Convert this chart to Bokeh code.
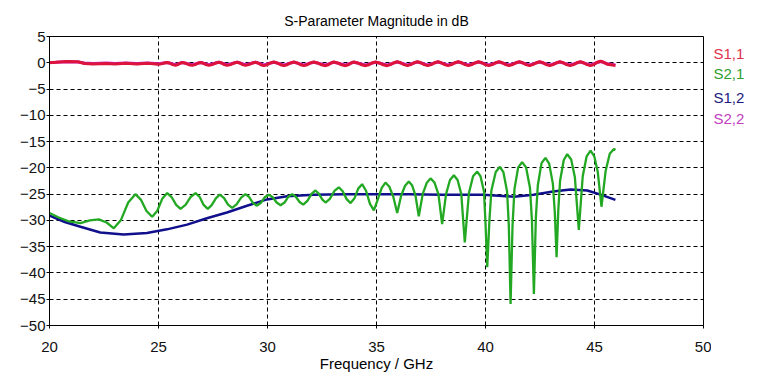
from bokeh.plotting import figure
from bokeh.models import Range1d, FixedTicker, ColumnDataSource
from bokeh.layouts import row
from bokeh.core.properties import value
from bokeh.embed import file_html
from bokeh.resources import INLINE

# ---------------- data ----------------
x_ticks = [20, 25, 30, 35, 40, 45, 50]
y_ticks = [5, 0, -5, -10, -15, -20, -25, -30, -35, -40, -45, -50]
series_names = ["S1,1", "S2,1", "S1,2", "S2,2"]

# S1,1 : (frequency GHz, dB)
s11_points = [
    (20.00, 0.00), (20.30, 0.10), (20.80, 0.25), (21.30, 0.20), (21.60, -0.15), (22.00, -0.25),
    (22.60, -0.15), (23.00, -0.25), (23.50, -0.10), (24.00, -0.25), (24.50, -0.10), (25.00, -0.30),
    (25.13, -0.21), (25.27, -0.04), (25.40, 0.05), (25.53, -0.09), (25.65, -0.36), (25.78, -0.50),
    (25.88, -0.36), (25.99, -0.09), (26.09, 0.05), (26.24, -0.09), (26.40, -0.36), (26.55, -0.50),
    (26.68, -0.36), (26.80, -0.09), (26.93, 0.05), (27.06, -0.09), (27.18, -0.36), (27.31, -0.50),
    (27.46, -0.35), (27.62, -0.05), (27.77, 0.10), (27.90, -0.05), (28.02, -0.35), (28.15, -0.50),
    (28.30, -0.35), (28.46, -0.05), (28.61, 0.10), (28.74, -0.05), (28.86, -0.35), (28.99, -0.50),
    (29.14, -0.35), (29.30, -0.05), (29.45, 0.10), (29.58, -0.06), (29.70, -0.39), (29.83, -0.55),
    (29.98, -0.38), (30.14, -0.03), (30.29, 0.15), (30.44, -0.03), (30.60, -0.38), (30.75, -0.55),
    (30.90, -0.38), (31.06, -0.03), (31.21, 0.15), (31.36, -0.03), (31.52, -0.38), (31.67, -0.55),
    (31.82, -0.38), (31.97, -0.03), (32.12, 0.15), (32.30, -0.03), (32.48, -0.38), (32.66, -0.55),
    (32.79, -0.38), (32.91, -0.03), (33.04, 0.15), (33.22, -0.03), (33.40, -0.38), (33.58, -0.55),
    (33.71, -0.38), (33.83, -0.03), (33.96, 0.15), (34.14, -0.03), (34.32, -0.38), (34.50, -0.55),
    (34.65, -0.38), (34.80, -0.03), (34.95, 0.15), (35.13, -0.03), (35.31, -0.38), (35.49, -0.55),
    (35.64, -0.36), (35.80, 0.01), (35.95, 0.20), (36.11, 0.01), (36.26, -0.36), (36.42, -0.55),
    (36.57, -0.36), (36.73, 0.01), (36.88, 0.20), (37.04, 0.01), (37.19, -0.36), (37.35, -0.55),
    (37.51, -0.36), (37.66, 0.01), (37.82, 0.20), (37.97, 0.01), (38.13, -0.36), (38.28, -0.55),
    (38.44, -0.36), (38.59, 0.01), (38.75, 0.20), (38.91, 0.01), (39.06, -0.36), (39.22, -0.55),
    (39.37, -0.36), (39.53, 0.01), (39.68, 0.20), (39.84, 0.01), (39.99, -0.36), (40.15, -0.55),
    (40.31, -0.36), (40.46, 0.01), (40.62, 0.20), (40.77, 0.01), (40.93, -0.36), (41.08, -0.55),
    (41.24, -0.36), (41.39, 0.01), (41.55, 0.20), (41.71, 0.01), (41.86, -0.36), (42.02, -0.55),
    (42.17, -0.36), (42.33, 0.01), (42.48, 0.20), (42.64, 0.01), (42.79, -0.36), (42.95, -0.55),
    (43.10, -0.36), (43.26, 0.01), (43.41, 0.20), (43.57, 0.01), (43.72, -0.36), (43.88, -0.55),
    (44.04, -0.36), (44.19, 0.01), (44.35, 0.20), (44.50, 0.01), (44.66, -0.36), (44.81, -0.55),
    (44.97, -0.34), (45.12, 0.09), (45.28, 0.30), (45.40, 0.15), (45.60, -0.30), (45.96, -0.50),
]

# S2,2 : (frequency GHz, dB)  (lies just under S1,1)
s22_points = [
    (20.00, 0.05), (20.30, 0.10), (20.80, 0.20), (21.30, 0.15), (21.60, -0.05), (22.00, -0.15),
    (22.60, -0.05), (23.00, -0.15), (23.50, -0.05), (24.00, -0.15), (24.50, -0.05), (25.00, -0.20),
    (25.40, 0.05), (25.78, -0.35), (26.09, 0.05), (26.55, -0.35), (26.93, 0.05), (27.31, -0.35),
    (27.77, 0.10), (28.15, -0.35), (28.61, 0.10), (28.99, -0.35), (29.45, 0.10), (29.83, -0.40),
    (30.29, 0.10), (30.75, -0.40), (31.21, 0.10), (31.67, -0.40), (32.12, 0.10), (32.66, -0.40),
    (33.04, 0.10), (33.58, -0.40), (33.96, 0.10), (34.50, -0.40), (34.95, 0.10), (35.49, -0.40),
    (35.95, 0.15), (36.42, -0.40), (36.88, 0.15), (37.35, -0.40), (37.82, 0.15), (38.28, -0.40),
    (38.75, 0.15), (39.22, -0.40), (39.68, 0.15), (40.15, -0.40), (40.62, 0.15), (41.08, -0.40),
    (41.55, 0.15), (42.02, -0.40), (42.48, 0.15), (42.95, -0.40), (43.41, 0.15), (43.88, -0.40),
    (44.35, 0.15), (44.81, -0.40), (45.28, 0.25), (45.60, -0.20), (45.96, -0.40),
]

# S2,1 : (frequency GHz, dB)
s21_points = [
    (20.00, -28.6), (20.40, -29.4), (20.90, -30.2), (21.42, -30.5), (21.85, -30.0), (22.26, -29.8),
    (22.62, -30.4), (22.95, -31.5), (23.28, -29.9), (23.61, -26.6), (23.94, -25.0), (24.20, -26.1),
    (24.45, -28.2), (24.71, -29.3), (24.94, -28.2), (25.17, -25.9), (25.40, -24.8), (25.60, -25.55),
    (25.81, -27.05), (26.01, -27.8), (26.24, -27.05), (26.47, -25.55), (26.70, -24.8), (26.89, -25.55),
    (27.07, -27.05), (27.26, -27.8), (27.44, -27.1), (27.63, -25.8), (27.81, -25.1), (28.00, -25.7),
    (28.19, -27.0), (28.38, -27.6), (28.58, -26.95), (28.79, -25.65), (28.99, -25.0), (29.16, -25.55),
    (29.33, -26.65), (29.50, -27.2), (29.69, -26.7), (29.87, -25.6), (30.06, -25.1), (30.24, -25.6),
    (30.42, -26.6), (30.60, -27.1), (30.78, -26.6), (30.95, -25.5), (31.13, -25.0), (31.30, -25.5),
    (31.47, -26.5), (31.64, -27.0), (31.83, -26.3), (32.01, -25.0), (32.20, -24.3), (32.35, -24.9),
    (32.51, -26.0), (32.66, -26.6), (32.86, -25.9), (33.07, -24.4), (33.27, -23.7), (33.45, -24.45),
    (33.63, -25.95), (33.81, -26.7), (33.99, -25.8), (34.16, -23.95), (34.34, -23.1), (34.52, -24.35),
    (34.70, -26.85), (34.88, -28.1), (35.06, -26.0), (35.24, -23.8), (35.41, -22.8), (35.59, -23.6),
    (35.77, -25.5), (35.95, -28.6), (36.13, -25.3), (36.31, -23.4), (36.48, -22.6), (36.63, -23.3),
    (36.79, -25.3), (36.94, -29.2), (37.12, -25.0), (37.30, -22.9), (37.48, -22.0), (37.66, -22.8),
    (37.84, -25.0), (38.01, -30.7), (38.19, -25.0), (38.37, -22.3), (38.55, -21.4), (38.72, -22.3),
    (38.89, -25.0), (39.05, -34.2), (39.24, -24.8), (39.43, -21.6), (39.62, -20.7), (39.77, -21.6),
    (39.93, -24.5), (40.00, -30.5), (40.08, -38.9), (40.18, -30.0), (40.27, -24.3), (40.47, -20.8),
    (40.66, -19.8), (40.82, -20.8), (40.99, -24.5), (41.07, -31.0), (41.15, -45.9), (41.24, -31.0),
    (41.33, -24.0), (41.50, -19.9), (41.68, -18.9), (41.86, -19.9), (42.04, -23.8), (42.13, -30.0),
    (42.22, -44.0), (42.31, -29.5), (42.40, -23.3), (42.57, -19.1), (42.75, -18.1), (42.92, -19.2),
    (43.09, -23.0), (43.18, -28.5), (43.26, -37.0), (43.34, -28.0), (43.42, -22.5), (43.59, -18.5),
    (43.75, -17.4), (43.93, -18.4), (44.10, -21.8), (44.28, -31.8), (44.46, -21.6), (44.64, -17.8),
    (44.82, -16.7), (44.99, -17.8), (45.15, -20.8), (45.32, -27.4), (45.51, -20.6), (45.70, -17.3),
    (45.89, -16.4), (45.96, -16.6),
]

# S1,2 : (frequency GHz, dB)
s12_points = [
    (20.00, -29.1), (20.70, -30.3), (21.42, -31.2), (22.33, -32.3), (23.40, -32.7), (24.47, -32.4),
    (25.39, -31.7), (26.31, -30.8), (27.22, -29.6), (28.14, -28.5), (29.06, -27.2), (29.98, -26.0),
    (30.90, -25.4), (32.12, -25.1), (33.50, -25.0), (35.00, -25.0), (36.50, -25.0), (38.00, -25.1),
    (39.90, -25.1), (40.60, -25.3), (41.30, -25.5), (42.20, -25.1), (43.10, -24.5), (43.90, -24.1),
    (44.67, -24.3), (45.28, -25.1), (45.96, -26.1),
]

# legend label vertical positions (in dB units, matching the plot's y scale)
legend_y = [1.8, -2.0, -6.65, -10.65]

# ---------------- styles ----------------
line_colors = {"S1,1": "#dc143c", "S2,1": "#22a822", "S1,2": "#10108c", "S2,2": "#d020d0"}
text_colors = {"S1,1": "#e0304a", "S2,1": "#30a030", "S1,2": "#1a1a80", "S2,2": "#c040c0"}
FONT = "Liberation Sans"


def cols(points):
    return [a for a, _ in points], [b for _, b in points]


y_range = Range1d(-50, 5)

p = figure(width=711, height=376, output_backend="svg", toolbar_location=None,
           x_range=Range1d(20, 50), y_range=y_range,
           min_border_left=49, min_border_right=8, min_border_top=36, min_border_bottom=51,
           title="S-Parameter Magnitude in dB")

p.title.align = "center"
p.title.text_font = FONT
p.title.text_font_size = "14px"
p.title.text_font_style = "normal"
p.title.text_color = "#000000"
p.title.standoff = 15

p.background_fill_color = "white"
p.border_fill_color = "white"
p.outline_line_color = "black"
p.outline_line_width = 1

for ax in (p.xaxis[0], p.yaxis[0]):
    ax.axis_line_color = "black"
    ax.major_tick_line_color = "black"
    ax.major_tick_in = 0
    ax.major_tick_out = 3
    ax.minor_tick_line_color = None
    ax.major_label_text_font = FONT
    ax.major_label_text_font_size = "15px"
    ax.major_label_text_color = "#111111"

p.xaxis[0].ticker = FixedTicker(ticks=x_ticks)
p.yaxis[0].ticker = FixedTicker(ticks=y_ticks)
p.xaxis[0].major_label_standoff = 13
p.yaxis[0].major_label_standoff = 1
p.xaxis[0].axis_label = "Frequency / GHz"
p.xaxis[0].axis_label_text_font = FONT
p.xaxis[0].axis_label_text_font_size = "15px"
p.xaxis[0].axis_label_text_font_style = "normal"
p.xaxis[0].axis_label_text_color = "#000000"
p.xaxis[0].axis_label_standoff = 0

for g in (p.xgrid[0], p.ygrid[0]):
    g.grid_line_color = "black"
    g.grid_line_dash = "4 3"
    g.grid_line_width = 1

fx, fy = cols(s22_points)
p.line(fx, fy, line_color=line_colors["S2,2"], line_width=3)
fx, fy = cols(s11_points)
p.line(fx, fy, line_color=line_colors["S1,1"], line_width=3)
fx, fy = cols(s12_points)
p.line(fx, fy, line_color=line_colors["S1,2"], line_width=2.5)
fx, fy = cols(s21_points)
p.line(fx, fy, line_color=line_colors["S2,1"], line_width=2.3)

# legend panel to the right of the plot frame
leg = figure(width=64, height=376, output_backend="svg", toolbar_location=None,
             x_range=Range1d(0, 64), y_range=y_range,
             x_axis_type=None, y_axis_type=None,
             min_border_left=0, min_border_right=0, min_border_top=36, min_border_bottom=51)
leg.outline_line_color = None
leg.background_fill_color = "white"
leg.border_fill_color = "white"
leg_src = ColumnDataSource(dict(x=[2, 2, 2, 2], y=legend_y, text=series_names,
                                color=[text_colors[n] for n in series_names]))
leg.text(x="x", y="y", text="text", text_color="color", source=leg_src,
         text_font=value(FONT), text_font_size="15px",
         text_baseline="middle", text_align="left")

layout = row(p, leg, spacing=0)
open("out.html", "w").write(file_html(layout, INLINE))
